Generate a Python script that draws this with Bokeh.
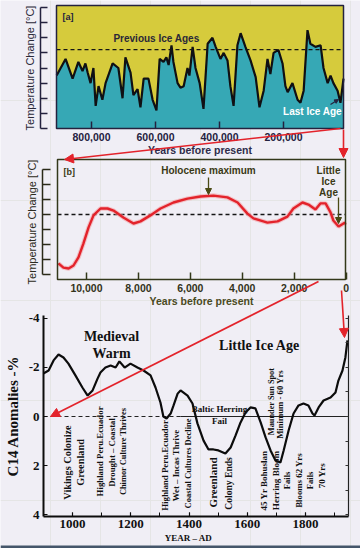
import numpy as np
from bokeh.plotting import figure
from bokeh.models import (Range1d, LinearAxis, FixedTicker, SingleIntervalTicker,
                          NumeralTickFormatter, CustomJSTickFormatter, Arrow, NormalHead,
                          ColumnDataSource)
from bokeh.core.properties import value
from bokeh.embed import file_html
from bokeh.resources import INLINE

# ---------------- (a) last ~900,000 years ----------------
A_AGE_YR = [909000, 881000, 859000, 841000, 828000, 819000, 812000, 803000, 794000, 787000,
            778000, 766000, 756000, 734000, 716000, 703000, 694000, 678000, 669000, 656000,
            647000, 637000, 622000, 609000, 597000, 587000, 575000, 566000, 559000, 550000,
            544000, 531000, 522000, 512000, 500000, 494000, 484000, 475000, 462000, 450000,
            437000, 422000, 412000, 397000, 387000, 375000, 366000, 356000, 344000, 334000,
            319000, 303000, 287000, 275000, 262000, 250000, 241000, 231000, 216000, 203000,
            194000, 187000, 172000, 156000, 147000, 137000, 125000, 116000, 100000, 84000,
            75000, 62000, 53000, 44000, 31000, 22000, 12500]
A_TEMP = [-2.5, -1.4, -2.7, -1.6, -2.2, -1.7, -2.3, -3.0, -2.0, -4.5,
          -3.2, -4.1, -3.0, -1.7, -2.0, -4.0, -1.3, -2.3, -3.8, -3.4,
          -4.6, -2.7, -2.7, -4.1, -4.8, -1.4, -1.6, -1.3, -1.8, -0.5,
          -1.6, -3.0, -3.3, -3.2, -2.0, -2.5, -0.6, -2.0, -3.0, -4.7,
          -0.4, 0.0, -0.6, -1.4, -1.0, -1.5, -3.2, -4.5, -0.5, 0.3,
          -0.6, -1.5, -2.6, -4.6, -3.5, -1.4, -2.4, -1.0, -0.8, -1.7,
          -3.2, -3.6, -3.0, -4.1, -4.3, -3.5, 0.5, -0.4, -0.6, -0.5,
          -2.0, -3.0, -2.5, -3.0, -3.5, -4.3, -2.7]
A_PRESENT = -0.78
A_BASE = -6.0
A_XTICKS = [800000, 600000, 400000, 200000]
A_YTICKS = [2, 1, 0, -1, -2, -3, -4, -5, -6]

# ---------------- (b) Holocene ----------------
B_AGE_YR = [11080, 10890, 10690, 10500, 10310, 10120, 9920, 9730, 9460, 9190,
            8960, 8580, 8190, 7920, 7540, 7150, 6650, 6110, 5610, 5110,
            4570, 4180, 3800, 3570, 3030, 2640, 2260, 2030, 1680, 1450,
            1180, 990, 790, 600, 490, 290, 100, 0]
B_TEMP = [-1.63, -1.77, -1.80, -1.70, -1.43, -0.97, -0.43, -0.03, 0.20, 0.20,
          0.13, -0.10, -0.30, -0.23, -0.03, 0.20, 0.40, 0.53, 0.60, 0.63,
          0.57, 0.40, 0.03, -0.13, -0.27, -0.23, -0.07, 0.20, 0.40, 0.33,
          0.17, 0.37, 0.37, 0.07, -0.20, -0.40, -0.30, -0.27]
B_PRESENT = 0.0
B_XTICKS = [10000, 8000, 6000, 4000, 2000, 0]
B_YTICKS = [1.5, 1.0, 0.5, 0.0, -0.5, -1.0, -1.5, -2.0]

# ---------------- (c) C14 anomalies, AD 900-1950 ----------------
C_YEAR = [900, 918, 935, 952, 969, 986, 1010, 1034, 1052, 1069,
          1086, 1096, 1113, 1131, 1148, 1161, 1179, 1199, 1223, 1244,
          1268, 1285, 1302, 1312, 1323, 1337, 1347, 1361, 1371, 1395,
          1412, 1429, 1450, 1467, 1484, 1501, 1525, 1543, 1560, 1577,
          1594, 1611, 1628, 1646, 1663, 1680, 1697, 1714, 1725, 1742,
          1759, 1776, 1793, 1810, 1824, 1831, 1845, 1862, 1886, 1903,
          1913, 1927, 1937, 1944]
C_C14 = [-1.75, -1.87, -2.28, -2.52, -2.40, -2.15, -1.67, -1.18, -0.85, -1.06,
         -1.54, -1.79, -1.99, -2.07, -1.99, -2.24, -1.99, -2.15, -1.99, -1.87,
         -1.67, -1.18, -0.57, 0.00, 0.08, -0.12, -0.45, -0.93, -1.06, -0.85,
         -0.53, 0.28, 0.98, 1.34, 1.34, 1.38, 1.50, 1.26, 0.77, 0.24,
         -0.16, -0.37, -0.33, 0.24, 0.85, 1.38, 1.79, 1.87, 1.38, 0.57,
         -0.12, -0.45, -0.53, -0.45, -0.12, -0.04, -0.37, -0.65, -0.77, -0.98,
         -1.46, -1.87, -2.40, -3.09]
C_XTICKS_INTERVAL = 200
C_YTICKS = [-4, -2, 0, 2, 4]
C_RIGHT_TICKS = [-4, -3, -2, -1, 0, 1, 2, 3, 4]
C_ZERO = 0.0

# event notes (text) and where they are written (year, anomaly), font size
C_NOTES = ["Vikings Colonize", "Greenland", "Highland Peru.Ecuador", "Drought \u2013 Coastal",
           "Chimor Culture Thrives", "Highland Peru.Ecuador", "Wet \u2013 Incas Thrive",
           "Coastal Cultures Decline", "Greenland", "Colony Ends", "45 Yr Bohuslan",
           "Herring Bloom", "Fails", "Maunder Sun Spot", "Minimum - 60 Yrs",
           "Blooms 62 Yrs", "Fails", "70 Yrs"]
C_NOTE_YEAR = [983, 1028, 1096, 1137, 1175, 1319, 1357, 1395, 1484, 1536, 1659,
               1700, 1738, 1683, 1714, 1776, 1817, 1855]
C_NOTE_AT = [1.87, 1.87, 1.42, 1.46, 1.42, 1.99, 1.99, 1.91, 2.68, 2.72, 2.60,
             2.60, 2.60, -0.61, -0.49, 2.60, 2.60, 2.40]
C_NOTE_SIZE = ["10.3px", "10.3px", "8.8px", "8.8px", "8.4px", "8.9px", "8.8px",
               "8.5px", "11px", "9.6px", "9px", "9.2px", "8.6px", "8.3px", "8.7px",
               "8.8px", "8.6px", "9px"]

# ---------------- layout (page pixel calibration) ----------------
W, H = 360, 548
BG = "#f0eef5"
YELLOW = "#d6cb3c"
TEAL = "#36a8b5"
RED = "#e3232b"
NAVY = "#24223f"
OLIVE = "#3a3914"


def cal(v1, p1, v2, p2):
    k = (v2 - v1) / (p2 - p1)
    return lambda p: v1 + (p - p1) * k


ax_ = cal(800000, 91, 200000, 283)
ay_ = cal(2, 7, -6, 128)
bx_ = cal(10000, 86.0, 0, 345.6)
by_ = cal(0, 214, -2, 274)
cx_ = cal(1000, 72, 1800, 305)
cy_ = cal(0, 416, 4, 514.4)

p = figure(width=W, height=H, x_range=Range1d(0, W), y_range=Range1d(H, 0),
           output_backend="svg", toolbar_location=None, x_axis_location=None,
           y_axis_location=None, min_border=0, background_fill_color=BG,
           border_fill_color=BG, outline_line_color=None)
p.extra_x_ranges = {"a": Range1d(ax_(0), ax_(W)), "b": Range1d(bx_(0), bx_(W)),
                    "c": Range1d(cx_(0), cx_(W))}
p.extra_y_ranges = {"a": Range1d(ay_(H), ay_(0)), "b": Range1d(by_(H), by_(0)),
                    "c": Range1d(cy_(H), cy_(0))}

SANS = value("Liberation Sans")
SERIF = value("Liberation Serif")
blank = CustomJSTickFormatter(code="return ''")


def add_axis(side, rng, loc, bounds, ticker, **kw):
    a = LinearAxis(x_range_name=rng, y_range_name=rng, fixed_location=loc, bounds=bounds,
                   ticker=ticker, minor_tick_in=0, minor_tick_out=0, **kw)
    p.add_layout(a, side)
    return a


# bottom frame strip of the picture
p.quad(left=[0], right=[W], top=[545], bottom=[H], fill_color="#45566a", line_color=None)

# ================= panel (a) =================
A_L, A_R, A_T = ax_(56), ax_(343), ay_(5)
p.quad(left=[A_L], right=[A_R], bottom=[A_BASE], top=[A_T], fill_color=YELLOW,
       line_color=None, x_range_name="a", y_range_name="a")
p.varea(x=A_AGE_YR, y1=A_TEMP, y2=A_BASE, fill_color=TEAL, x_range_name="a", y_range_name="a")
p.line(A_AGE_YR, A_TEMP, line_color="#101014", line_width=2.2, x_range_name="a", y_range_name="a")
p.line([A_L, A_R], [A_PRESENT, A_PRESENT], line_color="#151515", line_width=1.3,
       line_dash="4 3", x_range_name="a", y_range_name="a")
p.quad(left=[A_L], right=[A_R], bottom=[A_BASE], top=[A_T], fill_color=None,
       line_color=NAVY, line_width=1.5, x_range_name="a", y_range_name="a")
p.text(x=[ax_(62)], y=[ay_(16)], text=["[a]"], text_font=SANS, text_font_style="bold",
       text_font_size="9px", text_color=NAVY, text_align="left", text_baseline="middle",
       x_range_name="a", y_range_name="a")
p.text(x=[ax_(156)], y=[ay_(38)], text=["Previous Ice Ages"], text_font=SANS,
       text_font_style="bold", text_font_size="10px", text_color="#2a2838", text_align="center",
       text_baseline="middle", x_range_name="a", y_range_name="a")
p.text(x=[ax_(312)], y=[ay_(111)], text=["Last Ice Age"], text_font=SANS,
       text_font_style="bold", text_font_size="10px", text_color="white", text_align="center",
       text_baseline="middle", x_range_name="a", y_range_name="a")
p.add_layout(Arrow(x_start=ax_(330), y_start=ay_(104), x_end=ax_(338), y_end=ay_(99),
                   line_color=NAVY, line_width=1.2, x_range_name="a", y_range_name="a",
                   end=NormalHead(size=4, fill_color=NAVY, line_color=NAVY)))

add_axis("left", "a", ax_(40), (A_BASE, 2), FixedTicker(ticks=A_YTICKS),
         formatter=blank, major_tick_in=7, major_tick_out=0, axis_line_color=NAVY,
         axis_line_width=1.5, major_tick_line_color=NAVY, major_tick_line_width=1.5,
         axis_label="Temperature Change [\u00b0C]", axis_label_text_font="Liberation Sans",
         axis_label_text_font_size="11px", axis_label_text_font_style="normal",
         axis_label_text_color="#2a2838", axis_label_standoff=5)
add_axis("below", "a", A_BASE, (ax_(343), ax_(56)), FixedTicker(ticks=A_XTICKS),
         formatter=NumeralTickFormatter(format="0,0"), major_tick_in=7, major_tick_out=0,
         axis_line_color=None, major_tick_line_color=NAVY, major_tick_line_width=1.5,
         major_label_text_font="Liberation Sans", major_label_text_font_style="bold",
         major_label_text_font_size="10.5px", major_label_text_color=NAVY,
         major_label_standoff=4, axis_label="Years before present",
         axis_label_text_font="Liberation Sans", axis_label_text_font_size="10.5px",
         axis_label_text_font_style="bold", axis_label_text_color="#2e2c4a",
         axis_label_standoff=0)

# ================= panel (b) =================
B_L, B_R, B_T, B_B = bx_(57), bx_(345), by_(159), by_(279)
p.line([B_L, B_R], [B_PRESENT, B_PRESENT], line_color="#151515", line_width=1.3,
       line_dash="4 3", x_range_name="b", y_range_name="b")
p.line(B_AGE_YR, B_TEMP, line_color="#f3a0a5", line_width=4.5, line_alpha=0.6,
       x_range_name="b", y_range_name="b")
p.line(B_AGE_YR, B_TEMP, line_color=RED, line_width=2.4, x_range_name="b", y_range_name="b")
p.quad(left=[B_L], right=[B_R], bottom=[B_B], top=[B_T], fill_color=None,
       line_color="#33381a", line_width=1.5, x_range_name="b", y_range_name="b")
p.text(x=[bx_(63)], y=[by_(171)], text=["[b]"], text_font=SANS, text_font_style="bold",
       text_font_size="9px", text_color=OLIVE, text_align="left", text_baseline="middle",
       x_range_name="b", y_range_name="b")
p.text(x=[bx_(208)], y=[by_(170)], text=["Holocene maximum"], text_font=SANS,
       text_font_style="bold", text_font_size="10px", text_color=OLIVE, text_align="center",
       text_baseline="middle", x_range_name="b", y_range_name="b")
p.text(x=[bx_(328)] * 3, y=[by_(170), by_(181), by_(192)], text=["Little", "Ice", "Age"],
       text_font=SANS, text_font_style="bold", text_font_size="10px", text_color=OLIVE,
       text_align="center", text_baseline="middle", x_range_name="b", y_range_name="b")
for (x0, y0, x1, y1) in [(208, 177, 208, 194), (338, 197, 338, 223)]:
    p.add_layout(Arrow(x_start=bx_(x0), y_start=by_(y0), x_end=bx_(x1), y_end=by_(y1),
                       line_color="#4a4a14", line_width=1.3, x_range_name="b",
                       y_range_name="b",
                       end=NormalHead(size=6, fill_color="#4a4a14", line_color="#4a4a14")))

add_axis("left", "b", bx_(42), (-2.0, 1.5), FixedTicker(ticks=B_YTICKS),
         formatter=blank, major_tick_in=8, major_tick_out=0, axis_line_color="#2a2a18",
         axis_line_width=1.5, major_tick_line_color="#2a2a18", major_tick_line_width=1.5,
         axis_label="Temperature Change [\u00b0C]", axis_label_text_font="Liberation Sans",
         axis_label_text_font_size="11px", axis_label_text_font_style="normal",
         axis_label_text_color="#2c2a20", axis_label_standoff=5)
add_axis("below", "b", by_(279), (bx_(345), bx_(57)), FixedTicker(ticks=B_XTICKS),
         formatter=NumeralTickFormatter(format="0,0"), major_tick_in=7, major_tick_out=0,
         axis_line_color=None, major_tick_line_color="#33381a", major_tick_line_width=1.5,
         major_label_text_font="Liberation Sans", major_label_text_font_style="bold",
         major_label_text_font_size="10.5px", major_label_text_color="#33331a",
         major_label_standoff=4, axis_label="Years before present",
         axis_label_text_font="Liberation Sans", axis_label_text_font_size="10.5px",
         axis_label_text_font_style="bold", axis_label_text_color="#4a4a1e",
         axis_label_standoff=0)

# ================= panel (c) =================
C_L, C_R, C_T, C_B = cx_(43), cx_(348), cy_(315), cy_(516)
split = cx_(180)
p.line([C_L, split], [C_ZERO, C_ZERO], line_color="#222", line_width=1.1, line_dash="4 3",
       x_range_name="c", y_range_name="c")
p.line([split, C_R], [C_ZERO, C_ZERO], line_color="#222", line_width=1.1,
       x_range_name="c", y_range_name="c")
p.line(C_YEAR, C_C14, line_color="#0c0c0c", line_width=2.2, x_range_name="c", y_range_name="c")

notes = ColumnDataSource(dict(x=C_NOTE_YEAR, y=C_NOTE_AT, text=C_NOTES, size=C_NOTE_SIZE))
p.text(x="x", y="y", text="text", source=notes, angle=np.pi / 2, text_font=SERIF,
       text_font_style="bold", text_font_size="size", text_color="#111111",
       text_align="center", text_baseline="middle", x_range_name="c", y_range_name="c")
p.text(x=[cx_(219), cx_(219)], y=[cy_(408), cy_(420)], text=["Baltic Herring", "Fail"],
       text_font=SERIF, text_font_style="bold", text_font_size="9px", text_color="#111111",
       text_align="center", text_baseline="middle", x_range_name="c", y_range_name="c")
p.text(x=[cx_(111), cx_(111), cx_(259)], y=[cy_(336), cy_(353), cy_(345)],
       text=["Medieval", "Warm", "Little Ice Age"], text_font=SERIF, text_font_style="bold",
       text_font_size="14px", text_color="#111111", text_align="center",
       text_baseline="middle", x_range_name="c", y_range_name="c")
p.text(x=[cx_(188)], y=[cy_(537)], text=["YEAR \u2013 AD"], text_font=SERIF,
       text_font_style="bold", text_font_size="9px", text_color="#111111",
       text_align="center", text_baseline="middle", x_range_name="c", y_range_name="c")

add_axis("left", "c", C_L, (C_B, C_T), FixedTicker(ticks=C_YTICKS),
         formatter=CustomJSTickFormatter(code="return String(tick)"),
         major_tick_in=4, major_tick_out=0, axis_line_color="#0c0c0c", axis_line_width=2,
         major_tick_line_color="#0c0c0c", major_tick_line_width=1.2,
         major_label_text_font="Liberation Serif", major_label_text_font_style="bold",
         major_label_text_font_size="13px", major_label_text_color="#111111",
         major_label_standoff=4, axis_label="C14 Anomalies -%",
         axis_label_text_font="Liberation Serif", axis_label_text_font_size="15px",
         axis_label_text_font_style="bold", axis_label_text_color="#111111",
         axis_label_standoff=5)
add_axis("right", "c", C_R, (C_B, C_T), FixedTicker(ticks=C_RIGHT_TICKS),
         formatter=blank, major_tick_in=3, major_tick_out=0, axis_line_color="#222",
         axis_line_width=1.2, major_tick_line_color="#333", major_tick_line_width=1)
cax = add_axis("below", "c", C_B, (C_L, C_R),
               SingleIntervalTicker(interval=C_XTICKS_INTERVAL, num_minor_ticks=2),
               major_tick_in=4, major_tick_out=0, axis_line_color="#0c0c0c",
               axis_line_width=2, major_tick_line_color="#0c0c0c", major_tick_line_width=1.2,
               major_label_text_font="Liberation Serif", major_label_text_font_style="bold",
               major_label_text_font_size="13px", major_label_text_color="#111111",
               major_label_standoff=3)
cax.minor_tick_in = 4
cax.minor_tick_line_color = "#0c0c0c"

# ================= red connector arrows (page pixels) =================
for (x0, y0, x1, y1) in [(340, 128, 64, 159), (343, 129, 343, 157),
                         (318, 281, 50, 416), (341, 290, 344, 337)]:
    p.add_layout(Arrow(x_start=x0, y_start=y0, x_end=x1, y_end=y1, line_color=RED,
                       line_width=1.6,
                       end=NormalHead(size=9, fill_color=RED, line_color=RED)))

open("out.html", "w").write(file_html(p, INLINE))
